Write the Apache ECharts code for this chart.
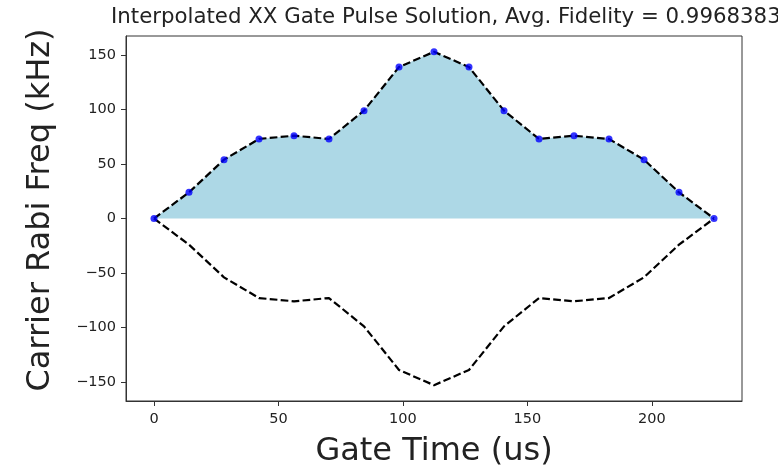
<!DOCTYPE html>
<html>
<head>
<meta charset="utf-8">
<script src="https://cdn.jsdelivr.net/npm/echarts@6/dist/echarts.min.js"></script>
<style>
html,body{margin:0;padding:0;background:#fff;}
#c{width:778px;height:473px;}
</style>
</head>
<body>
<div id="c"></div>
<script>
var gateTimes = [0, 14.06, 28.13, 42.19, 56.25, 70.31, 84.38, 98.44, 112.5, 126.56, 140.63, 154.69, 168.75, 182.81, 196.88, 210.94, 225];
var upperRabi = [0, 24, 54, 73, 76, 73, 99, 139, 153, 139, 99, 73, 76, 73, 54, 24, 0];
var lowerRabi = [0, -24, -54, -73, -76, -73, -99, -139, -153, -139, -99, -73, -76, -73, -54, -24, 0];
var xTicks = [0, 50, 100, 150, 200];
var yTicks = [-150, -100, -50, 0, 50, 100, 150];
var titleText = 'Interpolated XX Gate Pulse Solution, Avg. Fidelity = 0.9968383';
var xLabel = 'Gate Time (us)';
var yLabel = 'Carrier Rabi Freq (kHz)';

var FONT = 'DejaVu Sans';
function pairs(xs, ys){ return xs.map(function(x,i){ return [x, ys[i]]; }); }
function fmt(v){ return String(v).replace('-', '\u2212'); }

var chart = echarts.init(document.getElementById('c'), null, {renderer:'canvas'});
chart.setOption({
  animation:false,
  backgroundColor:'#fff',
  title:{
    text:titleText, left:106, top:2,
    textStyle:{fontFamily:FONT, fontSize:21.3, fontWeight:'normal', color:'#222'}
  },
  graphic:[{
    type:'text', x:41, y:210, rotation:Math.PI/2,
    style:{text:yLabel, fontFamily:FONT, fontSize:32, fill:'#222', align:'center', verticalAlign:'middle'}
  }],
  grid:{left:126, right:36, top:36, bottom:71, show:true, borderColor:'#333', borderWidth:1, backgroundColor:'transparent'},
  xAxis:{
    type:'value', min:-11.25, max:236.25,
    name:xLabel, nameLocation:'middle', nameGap:35,
    nameTextStyle:{fontFamily:FONT, fontSize:32, color:'#222'},
    splitLine:{show:false},
    axisLine:{show:true, onZero:false, lineStyle:{color:'#333', width:1}},
    axisTick:{show:true, length:5, customValues:xTicks, lineStyle:{color:'#333'}},
    axisLabel:{customValues:xTicks, margin:11, fontFamily:FONT, fontSize:14.5, color:'#222', formatter:fmt}
  },
  yAxis:{
    type:'value', min:-167.5, max:167.5,
    splitLine:{show:false},
    axisLine:{show:true, onZero:false, lineStyle:{color:'#333', width:1}},
    axisTick:{show:true, length:5, customValues:yTicks, lineStyle:{color:'#333'}},
    axisLabel:{customValues:yTicks, margin:10, fontFamily:FONT, fontSize:14.5, color:'#222', formatter:fmt}
  },
  series:[
    {
      type:'line', data:pairs(gateTimes, upperRabi), showSymbol:false, symbol:'none',
      lineStyle:{color:'#000', width:2.2, type:[7.7,3.3]},
      areaStyle:{color:'#add8e6', opacity:1, origin:0},
      z:2
    },
    {
      type:'line', data:pairs(gateTimes, lowerRabi), showSymbol:false, symbol:'none',
      lineStyle:{color:'#000', width:2.2, type:[7.7,3.3]},
      z:2
    },
    {
      type:'scatter', data:pairs(gateTimes, upperRabi), symbol:'circle', symbolSize:7,
      itemStyle:{color:'#0000ff'}, z:3
    }
  ]
});
</script>
</body>
</html>
